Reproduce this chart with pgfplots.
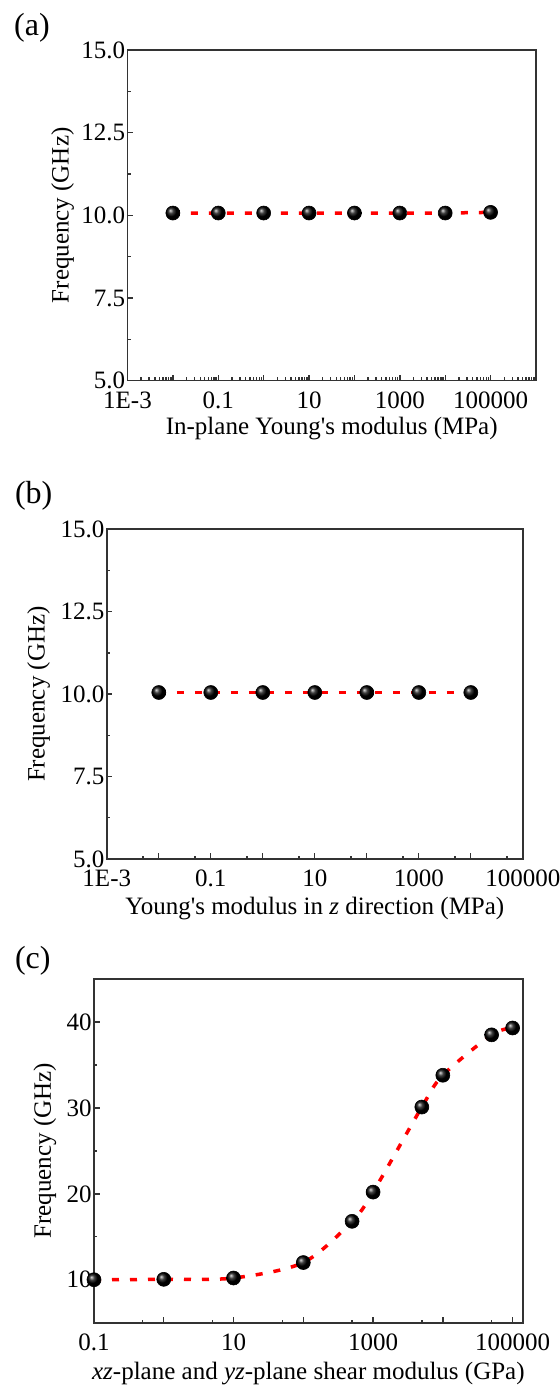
\documentclass[border=0pt]{standalone}
\usepackage{fontspec}
\setmainfont{Liberation Serif}
\usepackage{pgfplots}
\pgfplotsset{compat=1.18}

\definecolor{axgray}{HTML}{333333}
\definecolor{fitred}{HTML}{FF0000}

\pgfplotsset{
  panel/.style={
    scale only axis, anchor=south west, clip=false,
    axis line style={axgray, line width=0.8pt},
    tick pos=left, tick align=inside,
    major tick length=2.8pt, minor tick length=1.6pt,
    tick style={axgray, line width=0.7pt},
    tick label style={font=\fontsize{12.5}{14}\selectfont},
    label style={font=\fontsize{12.5}{14}\selectfont},
    yticklabel style={inner xsep=1pt},
    xticklabel style={yshift=-2pt},
    ylabel={Frequency (GHz)},
  },
  fitline/.style={fitred, line width=1.75pt, dash pattern=on 3.5pt off 5.5pt,
    mark=ball, mark size=3.5pt,
    mark options={solid, ball color=black, draw=black, line width=0.3pt}},
}

\begin{document}
\begin{tikzpicture}
\path[use as bounding box] (0,0) rectangle (279.5pt,694.5pt);

% (a)
\begin{semilogxaxis}[panel, at={(63.75pt,504.15pt)}, width=204.25pt, height=165.35pt,
  xmin=1e-3, xmax=1e6, ymin=5, ymax=15,
  xtick={1e-3,1e-2,0.1,1,10,100,1000,1e4,1e5,1e6},
  xticklabels={1E-3,,0.1,,10,,1000,,100000,},
  minor xtick={2e-3,3e-3,4e-3,5e-3,6e-3,7e-3,8e-3,9e-3,
    2e-2,3e-2,4e-2,5e-2,6e-2,7e-2,8e-2,9e-2,
    0.2,0.3,0.4,0.5,0.6,0.7,0.8,0.9,
    2,3,4,5,6,7,8,9,
    20,30,40,50,60,70,80,90,
    200,300,400,500,600,700,800,900,
    2000,3000,4000,5000,6000,7000,8000,9000,
    2e4,3e4,4e4,5e4,6e4,7e4,8e4,9e4,
    2e5,3e5,4e5,5e5,6e5,7e5,8e5,9e5},
  ytick={5,7.5,10,12.5,15}, minor ytick={6.25,8.75,11.25,13.75},
  yticklabels={5.0,7.5,10.0,12.5,15.0},
  xlabel={In-plane Young\textquotesingle s modulus (MPa)},
  xlabel style={at={(axis description cs:0.5,-0.144)}, anchor=center},
  ylabel style={at={(axis description cs:-0.1585,0.5)}, anchor=center}]
\addplot[fitline] coordinates {
  (0.01,10.07) (0.1,10.07) (1,10.07) (10,10.07) (100,10.07) (1000,10.07) (10000,10.07) (100000,10.09)};
\end{semilogxaxis}
\node[font=\fontsize{16}{19}\selectfont] at (16pt,680.75pt) {(a)};

% (b)
\begin{semilogxaxis}[panel, at={(53.4pt,265pt)}, width=208pt, height=164.85pt,
  xmin=1e-3, xmax=1e5, ymin=5, ymax=15,
  xtick={1e-3,1e-2,0.1,1,10,100,1000,1e4,1e5},
  xticklabels={1E-3,,0.1,,10,,1000,,100000},
  minor xtick={5e-3,5e-2,0.5,5,50,500,5000,5e4},
  ytick={5,7.5,10,12.5,15}, minor ytick={6.25,8.75,11.25,13.75},
  yticklabels={5.0,7.5,10.0,12.5,15.0},
  xlabel={Young\textquotesingle s modulus in \textit{z} direction (MPa)},
  xlabel style={at={(axis description cs:0.5,-0.150)}, anchor=center},
  ylabel style={at={(axis description cs:-0.164,0.5)}, anchor=center}]
\addplot[fitline] coordinates {
  (0.01,10.05) (0.1,10.05) (1,10.05) (10,10.05) (100,10.05) (1000,10.05) (10000,10.05)};
\end{semilogxaxis}
\node[font=\fontsize{16}{19}\selectfont] at (16.85pt,446.5pt) {(b)};

% (c)
\begin{semilogxaxis}[panel, at={(47pt,33.15pt)}, width=214.4pt, height=171.85pt,
  xmin=0.1, xmax=1.4e5, ymin=5, ymax=45,
  xtick={0.1,1,10,100,1000,1e4,1e5},
  xticklabels={0.1,,10,,1000,,100000},
  minor xtick={0.5,5,50,500,5000,5e4},
  ytick={10,20,30,40}, minor ytick={15,25,35},
  yticklabels={10,20,30,40},
  xlabel={\textit{xz}-plane and \textit{yz}-plane shear modulus (GPa)},
  xlabel style={at={(axis description cs:0.5,-0.149)}, anchor=center},
  ylabel style={at={(axis description cs:-0.1147,0.5)}, anchor=center}]
\addplot[fitline, smooth, tension=0.5] coordinates {
  (0.1,10.0) (1,10.05) (10,10.2) (100,12.0) (500,16.8) (1000,20.2)
  (5000,30.1) (10000,33.8) (50000,38.5) (100000,39.3)};
\end{semilogxaxis}
\node[font=\fontsize{16}{19}\selectfont] at (16.4pt,214pt) {(c)};
\end{tikzpicture}
\end{document}
